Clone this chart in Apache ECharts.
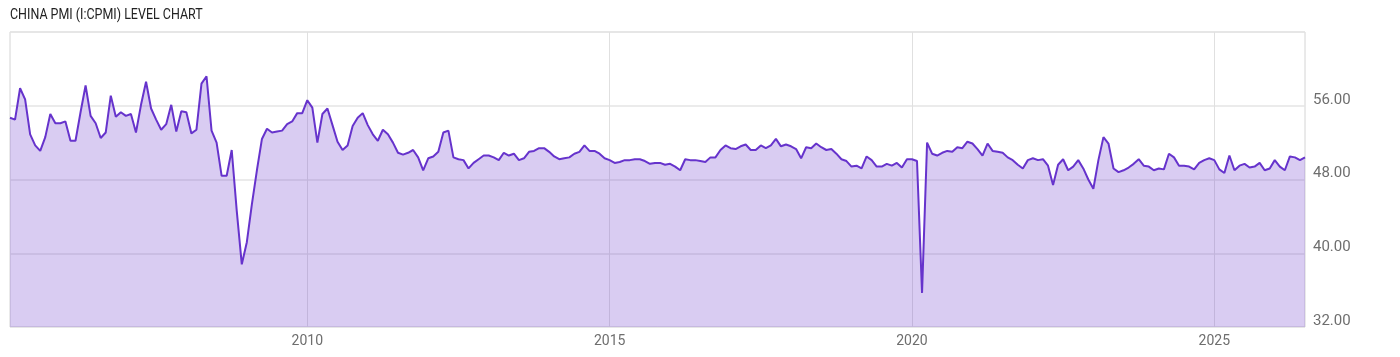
<!DOCTYPE html>
<html>
<head>
<meta charset="utf-8">
<script src="https://cdn.jsdelivr.net/npm/echarts@6/dist/echarts.min.js"></script>
<style>
  html, body { margin: 0; padding: 0; background: #fff; }
  #chart { width: 1400px; height: 357px; }
</style>
</head>
<body>
<div id="chart"></div>
<script>
// China PMI monthly levels (first point plotted at Feb 2005)
const y2005 = [54.7, 54.5, 57.9, 56.7, 52.9, 51.7, 51.1, 52.6, 55.1, 54.1, 54.1, 54.3];
const y2006 = [52.2, 52.2, 55.3, 58.2, 54.9, 54.1, 52.5, 53.1, 57.1, 54.8, 55.3, 54.9];
const y2007 = [55.1, 53.1, 56.1, 58.6, 55.7, 54.5, 53.4, 54.0, 56.1, 53.2, 55.4, 55.3];
const y2008 = [53.0, 53.4, 58.4, 59.2, 53.3, 52.0, 48.4, 48.4, 51.2, 44.6, 38.8, 41.2];
const y2009 = [45.3, 49.0, 52.4, 53.5, 53.1, 53.2, 53.3, 54.0, 54.3, 55.2, 55.2, 56.6];
const y2010 = [55.8, 52.0, 55.1, 55.7, 53.9, 52.1, 51.2, 51.7, 53.8, 54.7, 55.2, 53.9];
const y2011 = [52.9, 52.2, 53.4, 52.9, 52.0, 50.9, 50.7, 50.9, 51.2, 50.4, 49.0, 50.3];
const y2012 = [50.5, 51.0, 53.1, 53.3, 50.4, 50.2, 50.1, 49.2, 49.8, 50.2, 50.6, 50.6];
const y2013 = [50.4, 50.1, 50.9, 50.6, 50.8, 50.1, 50.3, 51.0, 51.1, 51.4, 51.4, 51.0];
const y2014 = [50.5, 50.2, 50.3, 50.4, 50.8, 51.0, 51.7, 51.1, 51.1, 50.8, 50.3, 50.1];
const y2015 = [49.8, 49.9, 50.1, 50.1, 50.2, 50.2, 50.0, 49.7, 49.8, 49.8, 49.6, 49.7];
const y2016 = [49.4, 49.0, 50.2, 50.1, 50.1, 50.0, 49.9, 50.4, 50.4, 51.2, 51.7, 51.4];
const y2017 = [51.3, 51.6, 51.8, 51.2, 51.2, 51.7, 51.4, 51.7, 52.4, 51.6, 51.8, 51.6];
const y2018 = [51.3, 50.3, 51.5, 51.4, 51.9, 51.5, 51.2, 51.3, 50.8, 50.2, 50.0, 49.4];
const y2019 = [49.5, 49.2, 50.5, 50.1, 49.4, 49.4, 49.7, 49.5, 49.8, 49.3, 50.2, 50.2];
const y2020 = [50.0, 35.7, 52.0, 50.8, 50.6, 50.9, 51.1, 51.0, 51.5, 51.4, 52.1, 51.9];
const y2021 = [51.3, 50.6, 51.9, 51.1, 51.0, 50.9, 50.4, 50.1, 49.6, 49.2, 50.1, 50.3];
const y2022 = [50.1, 50.2, 49.5, 47.4, 49.6, 50.2, 49.0, 49.4, 50.1, 49.2, 48.0, 47.0];
const y2023 = [50.1, 52.6, 51.9, 49.2, 48.8, 49.0, 49.3, 49.7, 50.2, 49.5, 49.4, 49.0];
const y2024 = [49.2, 49.1, 50.8, 50.4, 49.5, 49.5, 49.4, 49.1, 49.8, 50.1, 50.3, 50.1];
const y2025 = [49.1, 48.7, 50.6, 49.0, 49.5, 49.7, 49.3, 49.4, 49.8, 49.0, 49.2, 50.1];
const y2026 = [49.4, 49.0, 50.5, 50.4, 50.1, 50.4];

const pmiValues = [].concat(y2005, y2006, y2007, y2008, y2009, y2010, y2011, y2012,
  y2013, y2014, y2015, y2016, y2017, y2018, y2019, y2020, y2021, y2022, y2023,
  y2024, y2025, y2026);

// Category positions: one per month, starting Feb 2005
const startYear = 2005, startMonth = 2;
const categories = pmiValues.map((_, i) => {
  const m = startMonth - 1 + i;
  const yr = startYear + Math.floor(m / 12);
  const mo = (m % 12) + 1;
  return yr + '-' + (mo < 10 ? '0' + mo : mo);
});

const xTickLabels = ['2010', '2015', '2020', '2025'];
const yTicks = { min: 32, max: 64, interval: 8 };
const titleText = 'CHINA PMI (I:CPMI) LEVEL CHART';

const isTick = (idx, val) => val.slice(5) === '01' && xTickLabels.indexOf(val.slice(0, 4)) >= 0;

const FONT = "Roboto, sans-serif";

const chart = echarts.init(document.getElementById('chart'), null, { renderer: 'canvas' });
chart.setOption({
  animation: false,
  backgroundColor: '#ffffff',
  graphic: [{
    type: 'text',
    left: 10, top: 8,
    scaleX: 0.89,
    style: { text: titleText, font: '14px Roboto, sans-serif', fill: '#222' }
  }],
  grid: { left: 10, right: 95, top: 32, bottom: 30, show: true, borderColor: '#d4d4d4', borderWidth: 1 },
  xAxis: {
    type: 'category',
    data: categories,
    boundaryGap: false,
    axisLine: { show: false },
    axisTick: { show: false },
    axisLabel: {
      interval: isTick,
      formatter: (v) => v.slice(0, 4),
      fontFamily: FONT, fontSize: 14, color: '#6e6e6e', margin: 7
    },
    splitLine: { show: true, interval: isTick, lineStyle: { color: '#e0e0e0', width: 1 } }
  },
  yAxis: {
    type: 'value',
    position: 'right',
    min: yTicks.min, max: yTicks.max, interval: yTicks.interval,
    axisLine: { show: false },
    axisTick: { show: false },
    axisLabel: {
      showMaxLabel: false,
      formatter: (v) => v.toFixed(2),
      fontFamily: FONT, fontSize: 15, color: '#6e6e6e', margin: 8,
      verticalAlign: 'bottom', lineHeight: 12
    },
    splitLine: { show: true, lineStyle: { color: '#e4e4e4', width: 1.5 } }
  },
  series: [{
    type: 'line',
    data: pmiValues,
    symbol: 'none',
    lineStyle: { color: '#6633cc', width: 2 },
    areaStyle: { color: 'rgba(102,51,204,0.25)', opacity: 1 }
  }]
});
</script>
</body>
</html>
